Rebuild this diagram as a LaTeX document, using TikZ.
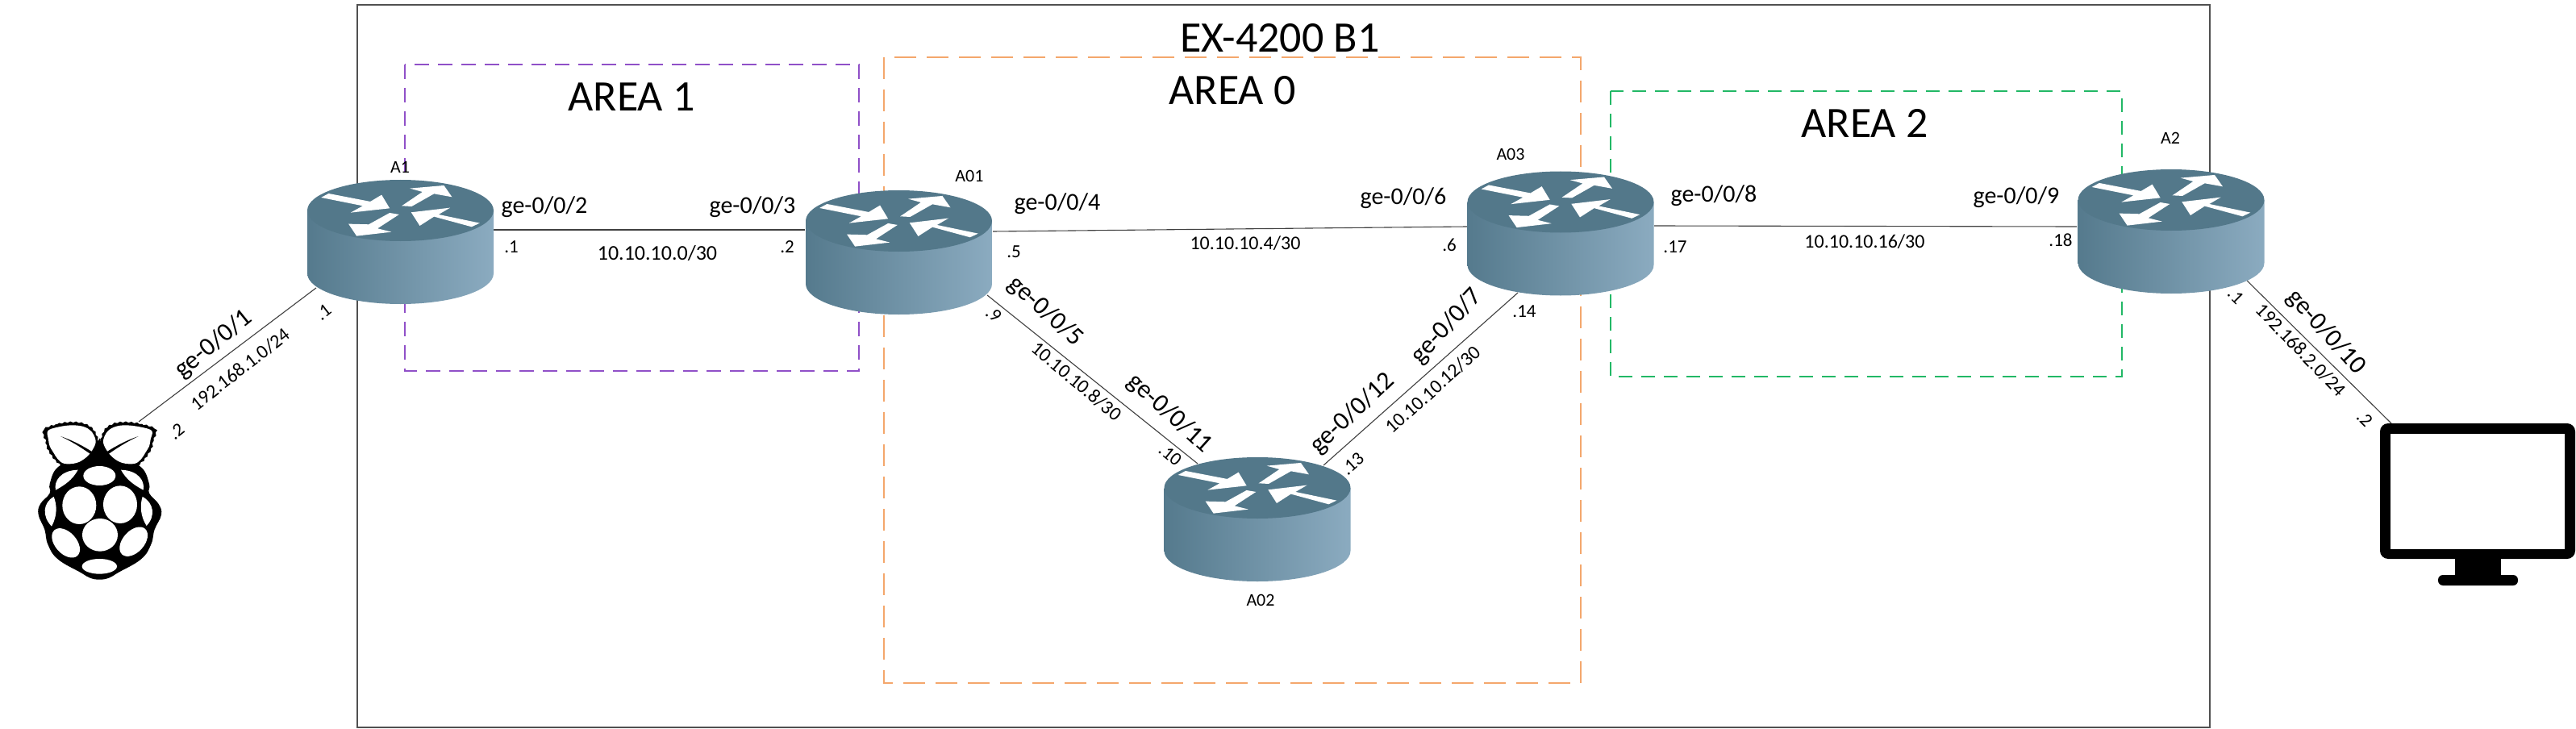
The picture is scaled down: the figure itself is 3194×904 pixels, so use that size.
\documentclass[tikz,border=0pt]{standalone}
\usepackage{fontspec}
\setmainfont{Carlito}
\usetikzlibrary{decorations.pathmorphing}
\definecolor{framegray}{HTML}{505050}
\definecolor{linkgray}{HTML}{404040}
\definecolor{areapurple}{HTML}{9050C8}
\definecolor{areaorange}{HTML}{F4A76C}
\definecolor{areagreen}{HTML}{22B866}
\definecolor{rtop}{HTML}{53788A}
\definecolor{rleft}{HTML}{557A8D}
\definecolor{rright}{HTML}{8BABC0}
\tikzset{
  areabox/.style={line width=2pt},
  linkline/.style={draw=linkgray,line width=1.1pt},
  anchorpt/.style={inner sep=0pt,outer sep=0pt,minimum size=0pt},
  iface/.style={inner sep=0pt,font=\fontsize{30}{34}\selectfont},
  ifacerot/.style={inner sep=0pt,font=\fontsize{32}{36}\selectfont},
  netlab/.style={inner sep=0pt,font=\fontsize{24}{28}\selectfont},
  netwide/.style={inner sep=0pt,font=\fontsize{26}{29}\selectfont},
  addr/.style={inner sep=0pt,font=\fontsize{23}{27}\selectfont},
  rname/.style={inner sep=0pt,font=\fontsize{22}{26}\selectfont},
  arealab/.style={inner sep=0pt,font=\fontsize{54}{60}\selectfont},
  rleaf/.style={fill=black,decorate,decoration={zigzag,segment length=7pt,amplitude=.8pt}},
  routericon/.pic={
    \shade[left color=rleft,right color=rright]
      (-115.5,0) -- (-115.5,78)
      .. controls (-115.5,99) and (-63.8,116) .. (0,116)
      .. controls (63.8,116) and (115.5,99) .. (115.5,78)
      -- (115.5,0) -- cycle;
    \fill[rtop] (0,0) ellipse (115.5pt and 38pt);
    \begin{scope}[shift={(-156.7,-81.7)},scale=1/3]
      \fill[white] (175,197)--(203,182)--(358,212)--(400,187)--(430,237)--(285,253)--(330,228)--cycle;
      \fill[white] (475,228)--(512,230)--(595,183)--(662,195)--(632,152)--(505,163)--(552,176)--cycle;
      \fill[white] (765,292)--(735,306)--(595,268)--(542,302)--(510,252)--(655,235)--(612,260)--cycle;
      \fill[white] (465,260)--(430,254)--(352,297)--(277,295)--(307,340)--(437,325)--(385,312)--cycle;
    \end{scope}
  }
}
\begin{document}
\begin{tikzpicture}[x=1pt,y=-1pt]
\useasboundingbox (0,0) rectangle (3194,904);
\fill[white] (0,0) rectangle (3194,904);
% frame and areas
\draw[draw=framegray,line width=1.6pt] (443,6) rectangle (2740,902);
\draw[areabox,draw=areapurple,dash pattern=on 18pt off 11pt] (502,80) rectangle (1065,460);
\draw[areabox,draw=areaorange,dash pattern=on 27pt off 13pt] (1096,71) rectangle (1960,847);
\draw[areabox,draw=areagreen,dash pattern=on 17pt off 11pt] (1997,113) rectangle (2631,467);
% router positions (centre of the top face)
\node[anchorpt] (A1) at (496.5,261) {};
\node[anchorpt] (A01) at (1114.5,274) {};
\node[anchorpt] (A03) at (1935,250.5) {};
\node[anchorpt] (A2) at (2692,248) {};
\node[anchorpt] (A02) at (1559,605) {};
\node[anchorpt] (RPI) at (172,523) {};
\node[anchorpt] (PC) at (2965,525) {};
% ports
\coordinate (A1e) at (612,285);
\coordinate (A1w) at (392,357);
\coordinate (A01w) at (998,285);
\coordinate (A01e) at (1231,287);
\coordinate (A01s) at (1224,366);
\coordinate (A03w) at (1819,281);
\coordinate (A03e) at (2051,280);
\coordinate (A03s) at (1882,363);
\coordinate (A2w) at (2575,281);
\coordinate (A2s) at (2786,348);
\coordinate (A02w) at (1485,575);
\coordinate (A02e) at (1641,577);
% links
\draw[linkline] (A1e) -- (A01w);
\draw[linkline] (A1w) -- (RPI);
\draw[linkline] (A01e) -- (A03w);
\draw[linkline] (A01s) -- (A02w);
\draw[linkline] (A02e) -- (A03s);
\draw[linkline] (A03e) -- (A2w);
\draw[linkline] (A2s) -- (PC);
% routers
\pic at (A1) {routericon};
\pic at (A01) {routericon};
\pic at (A03) {routericon};
\pic at (A2) {routericon};
\pic at (A02) {routericon};
% raspberry
\begin{scope}[shift={(0,340)},scale=1/3]
  \fill[black] plot[smooth cycle,tension=.7] coordinates {(370,670)(450,690)(525,718)(555,780)(555,815)(590,855)(600,895)(575,950)(562,1005)(525,1060)(440,1110)(405,1130)(370,1136)(335,1130)(300,1110)(215,1060)(178,1005)(166,950)(143,895)(150,855)(185,815)(185,780)(215,718)(290,690)};
  \path[rleaf] plot[smooth cycle,tension=.6] coordinates {(165,575)(215,557)(265,550)(310,555)(345,575)(365,615)(368,650)(325,692)(290,714)(240,717)(210,697)(190,672)(175,645)(170,620)(162,600)};
  \path[rleaf] plot[smooth cycle,tension=.6] coordinates {(578,575)(525,557)(470,550)(425,555)(392,575)(375,615)(372,650)(412,692)(450,714)(500,717)(530,697)(550,672)(565,645)(570,620)(578,600)};
  \fill[white] plot[smooth cycle,tension=.6] coordinates {(178,583)(215,569)(265,562)(310,567)(340,585)(356,620)(345,652)(320,682)(285,702)(240,705)(215,688)(198,662)(185,640)(180,615)};
  \fill[white] plot[smooth cycle,tension=.6] coordinates {(565,583)(525,569)(470,562)(430,567)(400,585)(384,620)(395,652)(420,682)(455,702)(500,705)(525,688)(542,662)(555,640)(560,615)};
  \fill[black] (370,610) -- (385,650) -- (420,700) -- (320,700) -- (355,650) -- cycle;
  \fill[black] (225,603) .. controls (270,618) and (310,640) .. (345,662) -- (335,668) .. controls (295,640) and (265,622) .. cycle;
  \fill[black] (515,603) .. controls (470,618) and (430,640) .. (395,662) -- (405,668) .. controls (445,640) and (475,622) .. cycle;
  \fill[white] (370,750) ellipse (60pt and 36pt);
  \fill[white] (207,803) .. controls (200,770) and (225,730) .. (290,728) .. controls (270,765) and (240,785) .. cycle;
  \fill[white] (533,803) .. controls (540,770) and (515,730) .. (450,728) .. controls (470,765) and (500,785) .. cycle;
  \fill[white] (295,860) ellipse (63pt and 70pt);
  \fill[white] (447,857) ellipse (63pt and 70pt);
  \fill[white] (200,828) .. controls (160,850) and (155,900) .. (192,938) .. controls (213,900) and (213,860) .. cycle;
  \fill[white] (530,828) .. controls (572,850) and (580,900) .. (545,936) .. controls (522,900) and (520,860) .. cycle;
  \fill[white] (372,970) ellipse (66pt and 61pt);
  \fill[white,rotate around={42:(245,1000)}] (245,1000) ellipse (40pt and 64pt);
  \fill[white,rotate around={-42:(497,995)}] (497,995) ellipse (40pt and 64pt);
  \fill[white] (370,1087) ellipse (65pt and 28pt);
\end{scope}
% monitor
\fill[black,rounded corners=10pt] (2951,525) rectangle (3193,693);
\fill[white] (2964,538) rectangle (3180,681);
\fill[black] (3044,690) rectangle (3101,716);
\fill[black,rounded corners=6pt] (3023,713) rectangle (3122,726);
% titles
\node[arealab] (tEX) at (1587,47) {EX-4200 B1};
\node[arealab] (tAR1) at (783,120) {AREA 1};
\node[arealab] (tAR0) at (1528,112) {AREA 0};
\node[arealab] (tAR2) at (2312,153) {AREA 2};
% router names
\node[rname] (nA1) at (496,207) {A1};
\node[rname] (nA01) at (1202,218) {A01};
\node[rname] (nA03) at (1873,191) {A03};
\node[rname] (nA2) at (2691,171) {A2};
\node[rname] (nA02) at (1563,744) {A02};
% horizontal labels
\node[iface] (i2) at (675,257) {ge-0/0/2};
\node[iface] (i3) at (933,257) {ge-0/0/3};
\node[iface] (i4) at (1311,253) {ge-0/0/4};
\node[iface] (i6) at (1740,246) {ge-0/0/6};
\node[iface] (i8) at (2125,243) {ge-0/0/8};
\node[iface] (i9) at (2500,245) {ge-0/0/9};
\node[addr] (a1) at (634,306) {.1};
\node[addr] (a2) at (976,306) {.2};
\node[addr] (a5) at (1257,312) {.5};
\node[addr] (a6) at (1797,304) {.6};
\node[addr] (a17) at (2077,306) {.17};
\node[addr] (a18) at (2555,298) {.18};
\node[netwide] (n0) at (815,314) {10.10.10.0/30};
\node[netlab] (n4) at (1544,302) {10.10.10.4/30};
\node[netlab] (n16) at (2312,300) {10.10.10.16/30};
% rotated labels
\node[ifacerot,rotate=39] (i1) at (265,427) {ge-0/0/1};
\node[netlab,rotate=38] (l1) at (298,458) {192.168.1.0/24};
\node[addr,rotate=38] (a1b) at (401,387) {.1};
\node[addr,rotate=38] (a2b) at (219,535) {.2};
\node[ifacerot,rotate=-48] (i10) at (2884,412) {ge-0/0/10};
\node[netlab,rotate=-46] (l2) at (2853,434) {192.168.2.0/24};
\node[addr,rotate=-45] (a1c) at (2772,367) {.1};
\node[addr,rotate=-45] (a2c) at (2932,519) {.2};
\node[ifacerot,rotate=-42] (i5) at (1296,386) {ge-0/0/5};
\node[netlab,rotate=-40] (n8) at (1335,473) {10.10.10.8/30};
\node[ifacerot,rotate=-42] (i11) at (1450,513) {ge-0/0/11};
\node[addr,rotate=-39] (a10) at (1451,564) {.10};
\node[addr,rotate=-39] (a9) at (1232,390) {.9};
\node[ifacerot,rotate=43] (i12) at (1677,513) {ge-0/0/12};
\node[netlab,rotate=42] (n12) at (1777,483) {10.10.10.12/30};
\node[ifacerot,rotate=47] (i7) at (1794,405) {ge-0/0/7};
\node[addr,rotate=42] (a13) at (1677,575) {.13};
\node[addr] (a14) at (1890,386) {.14};
\end{tikzpicture}
\end{document}
